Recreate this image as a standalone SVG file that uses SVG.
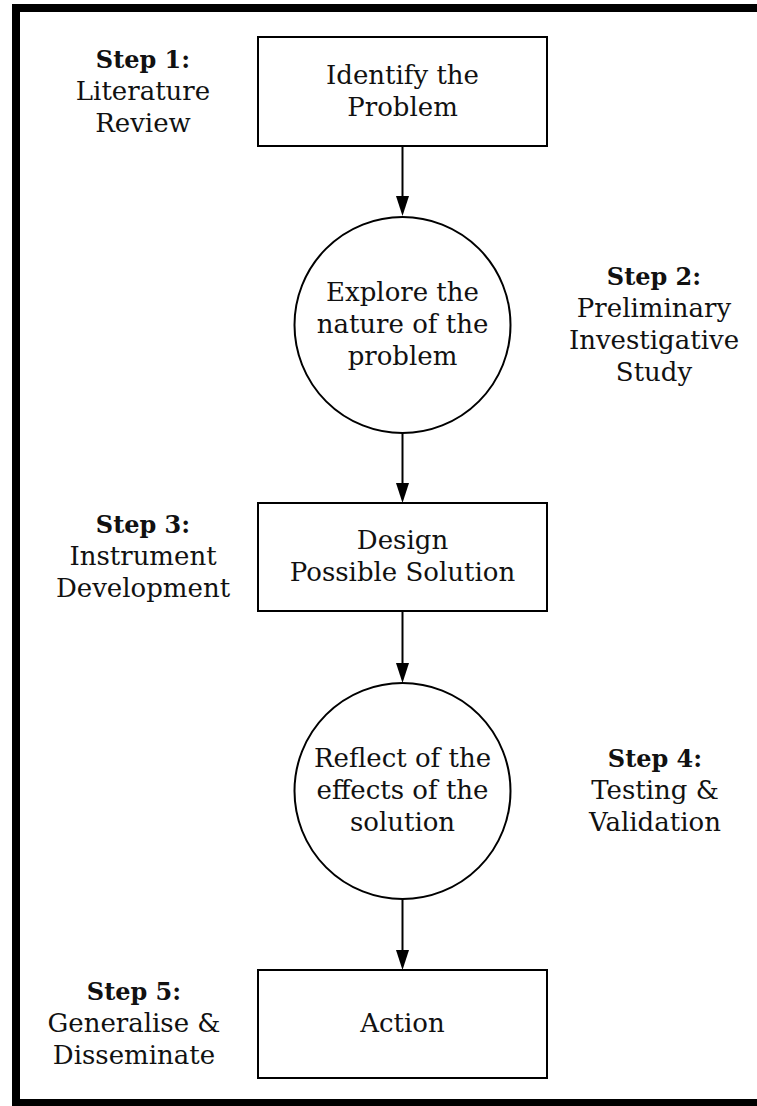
<svg xmlns="http://www.w3.org/2000/svg" width="757" height="1106" viewBox="0 0 757 1106">
<defs>
<style>
.frame{fill:none;stroke:#000;stroke-width:8}
.node{fill:#fff;stroke:#000;stroke-width:2}
.edge{stroke:#000;stroke-width:2;fill:none}
.head{fill:#000}
text{font-family:"DejaVu Serif","Liberation Serif",serif;font-size:26px;fill:#111;text-anchor:middle}
.b{font-weight:bold;font-size:24px}
</style>
</defs>
<rect width="757" height="1106" fill="#fff"/>
<rect class="frame" x="16" y="8" width="800" height="1095"/>

<g id="connectors">
<path class="edge" d="M402.5,147 V200"/>
<path class="head" d="M396,196 L409,196 L402.5,216 Z"/>
<path class="edge" d="M402.5,433 V487"/>
<path class="head" d="M396,483 L409,483 L402.5,503 Z"/>
<path class="edge" d="M402.5,611 V667"/>
<path class="head" d="M396,663 L409,663 L402.5,683 Z"/>
<path class="edge" d="M402.5,899 V954"/>
<path class="head" d="M396,950 L409,950 L402.5,970 Z"/>
</g>

<g id="node-identify">
<rect class="node" x="258" y="37" width="289" height="109"/>
<text x="402.5" y="83.5">Identify the</text>
<text x="402.5" y="115.5">Problem</text>
</g>

<g id="node-explore">
<circle class="node" cx="402.5" cy="325" r="108"/>
<text x="402.5" y="301">Explore the</text>
<text x="402.5" y="333">nature of the</text>
<text x="402.5" y="365">problem</text>
</g>

<g id="node-design">
<rect class="node" x="258" y="503" width="289" height="108"/>
<text x="402.5" y="549">Design</text>
<text x="402.5" y="581">Possible Solution</text>
</g>

<g id="node-reflect">
<circle class="node" cx="402.5" cy="791" r="108"/>
<text x="402.5" y="767">Reflect of the</text>
<text x="402.5" y="799">effects of the</text>
<text x="402.5" y="831">solution</text>
</g>

<g id="node-action">
<rect class="node" x="258" y="970" width="289" height="108"/>
<text x="402.5" y="1032">Action</text>
</g>

<g id="step1">
<text class="b" x="143" y="67.5">Step 1:</text>
<text x="143" y="99.5">Literature</text>
<text x="143" y="131.5">Review</text>
</g>
<g id="step2">
<text class="b" x="654" y="285">Step 2:</text>
<text x="654" y="317">Preliminary</text>
<text x="654" y="349">Investigative</text>
<text x="654" y="381">Study</text>
</g>
<g id="step3">
<text class="b" x="143" y="533">Step 3:</text>
<text x="143" y="565">Instrument</text>
<text x="143" y="597">Development</text>
</g>
<g id="step4">
<text class="b" x="655" y="767">Step 4:</text>
<text x="655" y="799">Testing &amp;</text>
<text x="655" y="831">Validation</text>
</g>
<g id="step5">
<text class="b" x="134" y="1000">Step 5:</text>
<text x="134" y="1032">Generalise &amp;</text>
<text x="134" y="1064">Disseminate</text>
</g>
</svg>
